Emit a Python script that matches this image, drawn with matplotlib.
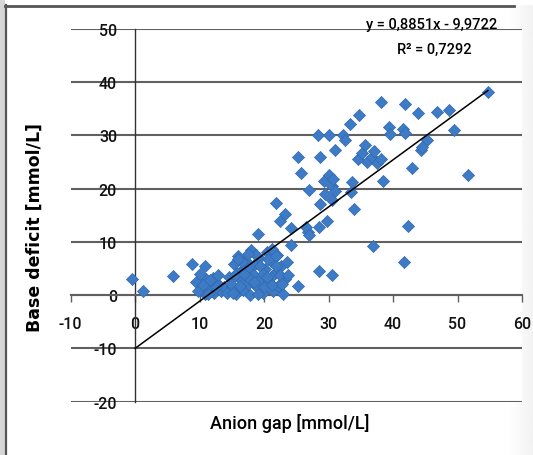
import numpy as np
import matplotlib
matplotlib.use('Agg')
import matplotlib.pyplot as plt
from matplotlib.patches import Rectangle
from matplotlib.lines import Line2D

plt.rcParams['axes.unicode_minus'] = False

# anion gap (x) and base deficit (y)
anion_gap = [-0.5, 1.2, 5.9, 8.8, 10.9,
             9.5, 10.2, 10.8, 11.5, 12.2, 12.8, 13.3, 11.0, 9.8, 12.0, 13.8, 10.0, 12.9, 11.6,
             10.5, 12.5, 11.3,
             14.5, 15.0, 15.3, 15.6, 16.0, 16.2, 16.5, 16.8, 17.2, 17.5, 17.8, 18.0, 18.3, 18.6,
             18.9, 19.2, 19.5, 19.8, 20.2, 20.5, 20.8, 21.1, 21.4, 21.7, 22.0, 22.3, 22.6, 22.9,
             23.2, 23.5, 15.8, 17.0, 19.0, 20.0, 21.0, 22.5, 14.2, 16.6, 18.8, 20.6, 15.9, 17.5,
             21.2, 21.8, 22.2,
             14.8, 15.5, 16.3, 17.3, 17.8, 18.5, 19.4, 19.9, 20.4, 21.3, 21.9, 22.7, 16.9, 15.1,
             19.1, 21.8, 22.4, 23.3, 24.1, 24.2, 25.3, 25.7, 25.3, 23.7, 27.0, 26.8, 26.5, 27.0,
             28.6, 28.5, 28.5, 29.8, 30.5, 28.6,
             29.3, 30.0, 30.5, 31.0, 29.5, 30.7, 30.5, 33.4, 33.9, 33.6,
             34.5, 35.2, 36.0, 36.8, 37.5, 38.2, 36.9, 38.4, 42.9, 42.3, 41.7, 44.3, 51.7, 54.7,
             38.1, 41.9, 43.9, 46.8, 48.6, 49.4, 39.4, 39.6, 41.5, 41.8, 45.3, 44.5,
             34.7, 33.3, 32.2, 32.5, 28.3, 30.1, 31.0, 35.7, 37.1]
base_deficit = [3.0, 0.8, 3.6, 5.8, 5.4,
                2.5, 1.2, 0.3, 1.8, 0.5, 2.2, 0.8, 3.0, 0.8, 3.2, 1.5, 4.0, 3.8, 2.8,
                2.0, 1.5, 0.2,
                3.5, 1.5, 5.8, 0.2, 7.3, 3.0, 4.8, 1.0, 6.5, 2.2, 0.1, 8.4, 4.0, 5.8,
                1.5, 7.0, 3.2, 0.5, 5.0, 8.2, 2.5, 6.5, 0.8, 4.2, 7.5, 1.8, 5.5, 0.3,
                3.0, 6.2, 4.2, 3.8, 0.3, 1.5, 3.5, 3.8, 0.5, 6.2, 7.5, 6.8, 6.8, 7.7,
                8.7, 7.4, 1.8,
                2.2, 3.8, 1.8, 5.0, 3.0, 2.5, 5.5, 4.0, 3.5, 2.0, 5.5, 2.2, 4.0, 0.5,
                11.5, 17.3, 14.0, 15.3, 12.6, 9.4, 26.0, 23.0, 1.8, 3.8, 19.7, 11.8, 12.8, 11.3,
                26.0, 12.8, 4.6, 14.0, 3.8, 17.2,
                21.5, 22.5, 20.5, 19.5, 19.0, 21.8, 17.8, 19.4, 16.2, 21.3,
                25.5, 26.8, 25.0, 26.0, 24.8, 25.6, 9.3, 21.4, 23.8, 13.0, 6.2, 27.2, 22.5, 38.2,
                36.2, 36.0, 34.2, 34.5, 34.8, 31.0, 31.6, 30.2, 31.3, 30.5, 29.1, 27.9,
                33.8, 32.1, 30.1, 29.2, 30.1, 30.1, 27.2, 28.2, 27.0]

slope, intercept = 0.8851, -9.9722
x_ticks = [-10, 0, 10, 20, 30, 40, 50, 60]
y_ticks = [-20, -10, 0, 10, 20, 30, 40, 50]

narrow = 'Roboto'

fig = plt.figure(figsize=(5.33, 4.56), dpi=100)
ax = fig.add_axes([70.7 / 533, 53.3 / 456, 451.3 / 533, 372.7 / 456])

ax.set_xlim(-10, 60)
ax.set_ylim(-20, 50)

ax.scatter(anion_gap, base_deficit, marker='D', s=38, facecolor='#3d7bc7',
           edgecolor='#3368ad', linewidths=0.5, zorder=3)

xs = np.array([0, max(anion_gap)])
ax.plot(xs, slope * xs + intercept, color='black', lw=1.1, zorder=4)

for s in ['top', 'right']:
    ax.spines[s].set_visible(False)
ax.spines['left'].set_position(('data', 0))
ax.spines['bottom'].set_position(('data', 0))
ax.spines['left'].set_color('#333333')
ax.spines['left'].set_linewidth(1.0)
ax.spines['bottom'].set_color('#606060')
ax.spines['bottom'].set_linewidth(1.5)

ax.set_xticks(x_ticks)
ax.set_yticks(y_ticks)
ax.tick_params(axis='y', length=0, pad=13, labelsize=11.5)
ax.tick_params(axis='x', direction='out', length=5, width=1, color='#606060', pad=10, labelsize=11.5)
for lab in ax.get_xticklabels() + ax.get_yticklabels():
    lab.set_family(narrow)
    lab.set_fontweight('medium')
    lab.set_color('#111111')
ax.yaxis.grid(True, color='#606060', lw=1.5)
ax.set_axisbelow(True)

fig.text(0.066, 1 - 228 / 456, 'Base deficit [mmol/L]', rotation=90, ha='center', va='center',
         fontsize=12.5, fontweight='bold', family='DejaVu Sans')
fig.text(290 / 533, 1 - 424 / 456, 'Anion gap [mmol/L]', ha='center', va='center',
         fontsize=13, fontweight='medium', family=narrow)
fig.text(432 / 533, 1 - 25 / 456, 'y = 0,8851x - 9,9722', ha='center', va='center',
         fontsize=10.5, fontweight='medium', family=narrow)
fig.text(434 / 533, 1 - 50 / 456, 'R² = 0,7292', ha='center', va='center',
         fontsize=10.5, fontweight='medium', family=narrow)

# frame around the picture
fig.patches.append(Rectangle((0, 0), 5 / 533, 1, transform=fig.transFigure,
                             facecolor='#d6d6d6', edgecolor='none', zorder=0))
fig.lines.append(Line2D([5.7 / 533, 5.7 / 533], [0, 1 - 6 / 456], transform=fig.transFigure,
                        color='#555555', lw=1.6))
fig.lines.append(Line2D([5 / 533, 514 / 533], [1 - 6.5 / 456, 1 - 6.5 / 456],
                        transform=fig.transFigure, color='#555555', lw=2))
gax = fig.add_axes([508 / 533, 0, 25 / 533, 1 - 6 / 456], zorder=-1)
grad = np.linspace(1.0, 0.95, 50)[None, :]
gax.imshow(grad, aspect='auto', cmap='gray', vmin=0, vmax=1, extent=[0, 1, 0, 1])
gax.axis('off')

fig.savefig('out.png', dpi=100)
